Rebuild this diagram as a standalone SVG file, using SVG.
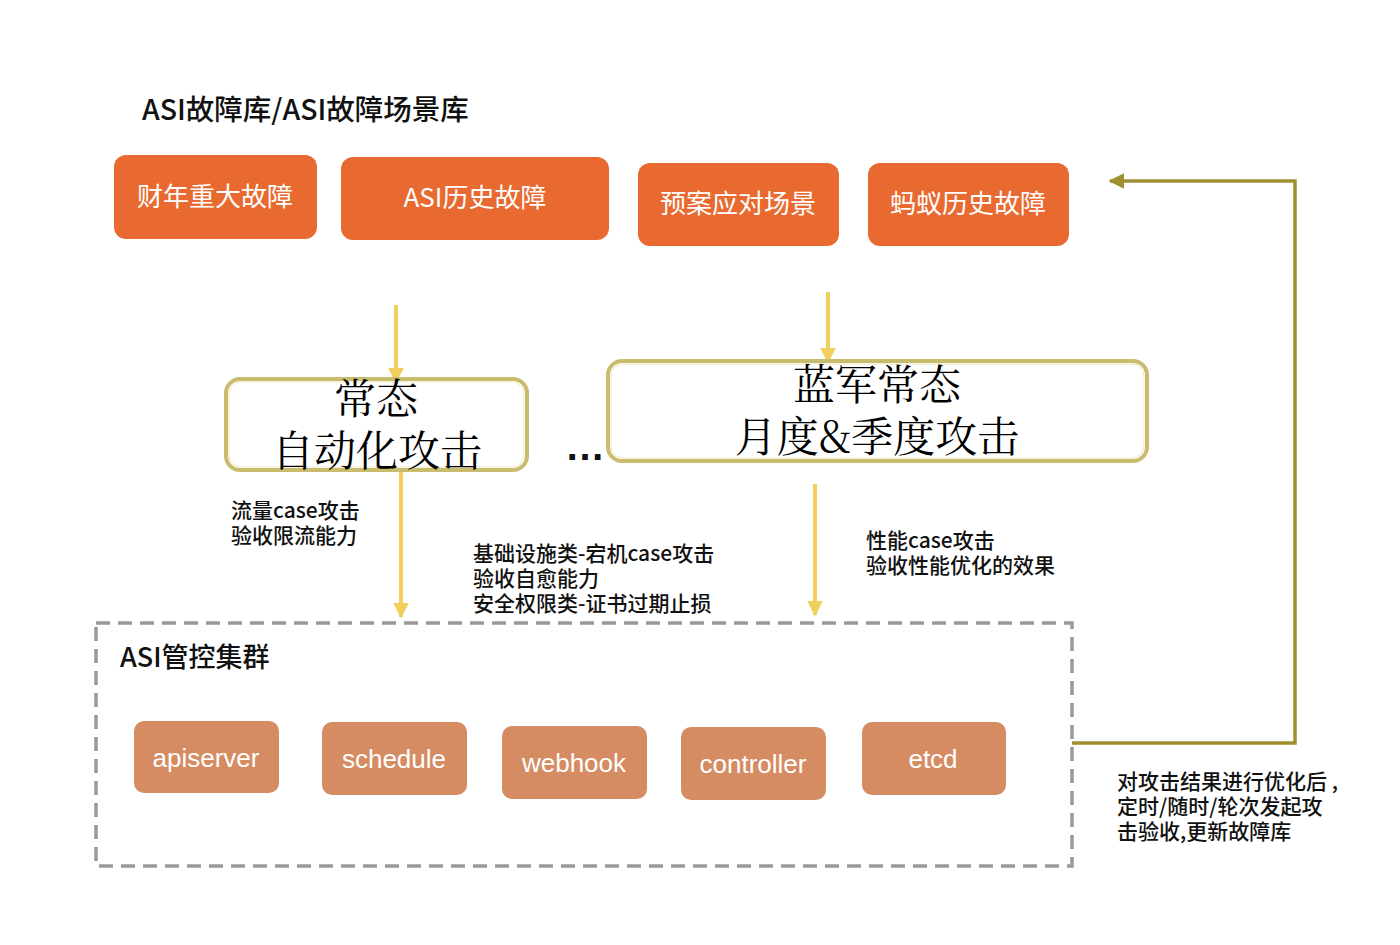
<svg xmlns="http://www.w3.org/2000/svg" width="1400" height="945" viewBox="0 0 1400 945">
<defs>
<style>
.sans{font-family:"Liberation Sans","Noto Sans CJK SC",sans-serif;}
.cjk{font-family:"Noto Sans CJK SC","Liberation Sans",sans-serif;}
.serif{font-family:"Noto Serif CJK SC","Liberation Serif","Noto Sans CJK SC",serif;}
.src{fill:#E86A30;}
.srct{fill:#fff;font-size:26px;text-anchor:middle;}
.comp{fill:#D68C63;}
.compt{fill:#fff;font-size:26px;text-anchor:middle;}
.attackOuter{fill:#fff;stroke:#C9BC6E;stroke-width:4;}
.attackInner{fill:none;stroke:#EFE8C2;stroke-width:1;}
.big{font-size:42px;text-anchor:middle;fill:#000;}
.lbl{font-size:21px;fill:#111;font-weight:500;}
.ya{stroke:#F0CF5C;stroke-width:4;fill:none;}
.fb{stroke:#A08F30;stroke-width:3.5;fill:none;}
</style>
<marker id="ay" viewBox="0 0 10 10" refX="9" refY="5" markerWidth="4" markerHeight="4" orient="auto" markerUnits="strokeWidth">
<path d="M0,0 L10,5 L0,10 z" fill="#F0CF5C"/>
</marker>
<marker id="af" viewBox="0 0 10 10" refX="9" refY="5" markerWidth="4.5" markerHeight="4.5" orient="auto" markerUnits="strokeWidth">
<path d="M0,0 L10,5 L0,10 z" fill="#A08F30"/>
</marker>
</defs>
<rect width="1400" height="945" fill="#fff"/>

<g id="title">
<text x="142" y="120" class="cjk" font-size="28.5" font-weight="500" fill="#111">ASI故障库/ASI故障场景库</text>
</g>

<g id="src1"><rect class="src" x="114" y="155" width="203" height="84" rx="12"/><text class="cjk srct" x="215" y="206">财年重大故障</text></g>
<g id="src2"><rect class="src" x="341" y="157" width="268" height="83" rx="12"/><text class="cjk srct" x="475" y="207">ASI历史故障</text></g>
<g id="src3"><rect class="src" x="638" y="163" width="201" height="83" rx="12"/><text class="cjk srct" x="738" y="213">预案应对场景</text></g>
<g id="src4"><rect class="src" x="868" y="163" width="201" height="83" rx="12"/><text class="cjk srct" x="968" y="213">蚂蚁历史故障</text></g>

<g id="connectors">
<line class="ya" x1="396" y1="305" x2="396" y2="382" marker-end="url(#ay)"/>
<line class="ya" x1="828" y1="292" x2="828" y2="362" marker-end="url(#ay)"/>
<line class="ya" x1="401" y1="471" x2="401" y2="617" marker-end="url(#ay)"/>
<line class="ya" x1="815" y1="484" x2="815" y2="615" marker-end="url(#ay)"/>
<polyline class="fb" points="1072,743 1295,743 1295,181 1110,181" marker-end="url(#af)"/>
</g>

<g id="attack1">
<rect class="attackOuter" x="226" y="379" width="301" height="91" rx="14"/>
<rect class="attackInner" x="229" y="382" width="295" height="85" rx="12"/>
<text class="serif big" x="376" y="414">常态<tspan x="377" y="466">自动化攻击</tspan></text>
</g>

<g id="ellipsis"><text x="565" y="460" class="sans" font-size="40" font-weight="bold" fill="#111">…</text></g>

<g id="attack2">
<rect class="attackOuter" x="608" y="361" width="539" height="100" rx="14"/>
<rect class="attackInner" x="611" y="364" width="533" height="94" rx="12"/>
<text class="serif big" x="877" y="400">蓝军常态<tspan x="877" y="452">月度&amp;季度攻击</tspan></text>
</g>

<g id="labels">
<text class="cjk lbl" x="231" y="518">流量case攻击<tspan x="231" y="543">验收限流能力</tspan></text>
<text class="cjk lbl" x="473" y="561">基础设施类-宕机case攻击<tspan x="473" y="586">验收自愈能力</tspan><tspan x="473" y="611">安全权限类-证书过期止损</tspan></text>
<text class="cjk lbl" x="866" y="548">性能case攻击<tspan x="866" y="573">验收性能优化的效果</tspan></text>
<text class="cjk lbl" x="1117" y="789">对攻击结果进行优化后 ,<tspan x="1117" y="814">定时/随时/轮次发起攻</tspan><tspan x="1117" y="839">击验收,更新故障库</tspan></text>
</g>

<g id="cluster">
<rect x="96" y="623" width="976" height="243" fill="none" stroke="#999" stroke-width="3.5" stroke-dasharray="14 8"/>
<text x="120" y="667" class="cjk" font-size="27" font-weight="500" fill="#111">ASI管控集群</text>
</g>

<g id="apiserver"><rect class="comp" x="134" y="721" width="145" height="72" rx="10"/><text class="sans compt" x="206" y="767">apiserver</text></g>
<g id="schedule"><rect class="comp" x="322" y="722" width="145" height="73" rx="10"/><text class="sans compt" x="394" y="768">schedule</text></g>
<g id="webhook"><rect class="comp" x="502" y="726" width="145" height="73" rx="10"/><text class="sans compt" x="574" y="772">webhook</text></g>
<g id="controller"><rect class="comp" x="681" y="727" width="145" height="73" rx="10"/><text class="sans compt" x="753" y="773">controller</text></g>
<g id="etcd"><rect class="comp" x="862" y="722" width="144" height="73" rx="10"/><text class="sans compt" x="933" y="768">etcd</text></g>
</svg>
